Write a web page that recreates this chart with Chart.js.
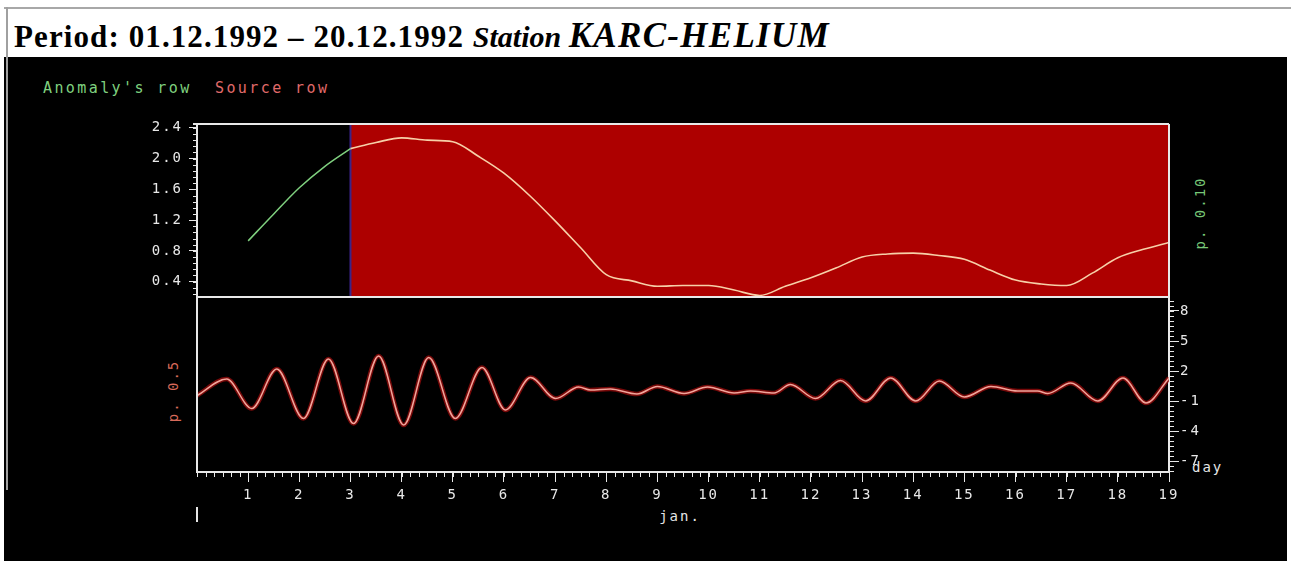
<!DOCTYPE html>
<html>
<head>
<meta charset="utf-8">
<script src="https://cdn.jsdelivr.net/npm/chart.js@4.4.1/dist/chart.umd.min.js"></script>
<style>
  html, body { margin: 0; padding: 0; background: #fff; }
  body { width: 1291px; height: 563px; position: relative; overflow: hidden; }
  .rule-top { position: absolute; left: 4px; top: 7px; width: 1287px; height: 2px; background: #a8a8a8; }
  .rule-left { position: absolute; left: 6px; top: 7px; width: 2px; height: 483px; background: #a0a0a0; z-index: 2; }
  .panel { position: absolute; left: 4px; top: 57px; width: 1283px; height: 504px; background: #000; }
  .title { position: absolute; left: 14px; top: 21px; white-space: nowrap; font-family: "Liberation Serif", serif; font-weight: bold; color: #000; line-height: 30px; }
  .title .period { font-size: 31px; letter-spacing: 1.1px; }
  .title .station { font-size: 30px; font-style: italic; }
  .title .name { font-size: 35px; font-style: italic; letter-spacing: 1.3px; }
  .mono { position: absolute; font-family: "DejaVu Sans Mono", monospace; font-size: 14px; letter-spacing: 2px; white-space: nowrap; line-height: 16px; }
  .origin { position: absolute; left: 196px; top: 507px; width: 2px; height: 15px; background: #e6e6e6; }
  canvas { position: absolute; left: 0; }
  #top { top: 100px; }
  #bottom { top: 290px; }
</style>
</head>
<body>
<div class="panel"></div>
<div class="rule-top"></div>
<div class="rule-left"></div>
<div class="title"><span class="period">Period: 01.12.1992 – 20.12.1992 </span><span class="station">Station </span><span class="name">KARC-HELIUM</span></div>

<div class="mono" style="left:43px; top:80px; color:#7fd07f; font-size:15px; letter-spacing:2.4px;">Anomaly's row</div>
<div class="mono" style="left:215px; top:80px; color:#e06a6a; font-size:15px; letter-spacing:2.4px;">Source row</div>

<div class="mono" style="left:1200px; top:213px; color:#78c878; transform: translate(-50%,-50%) rotate(-90deg);">p. 0.10</div>
<div class="mono" style="left:173px; top:391px; color:#d86a5a; transform: translate(-50%,-50%) rotate(-90deg);">p. 0.5</div>
<div class="mono" style="left:1192px; top:459px; color:#e6e6e6;">day</div>
<div class="mono" style="left:680px; top:508px; color:#e6e6e6; transform: translateX(-50%);">jan.</div>
<div class="origin"></div>

<canvas id="top" width="1291" height="200"></canvas>
<canvas id="bottom" width="1291" height="250"></canvas>

<script>
// Upper panel: smoothed series (days since 1 Dec, value)
const anomalyDays   = [1, 1.5, 2, 2.5, 3];
const anomalyValues = [0.93, 1.28, 1.62, 1.90, 2.13];

const sourceDays   = [3, 3.5, 4, 4.5, 5, 5.5, 6, 6.5, 7, 7.5, 8, 8.5, 9, 9.5, 10, 10.5, 11,
                      11.5, 12, 12.5, 13, 13.5, 14, 14.5, 15, 15.5, 16, 16.5, 17, 17.5, 18, 18.5, 19];
const sourceValues = [2.13, 2.21, 2.27, 2.24, 2.22, 2.03, 1.81, 1.52, 1.19, 0.84, 0.49, 0.41, 0.34, 0.35, 0.35, 0.29, 0.22,
                      0.34, 0.45, 0.58, 0.72, 0.76, 0.77, 0.74, 0.69, 0.55, 0.42, 0.37, 0.35, 0.51, 0.71, 0.82, 0.91];

// Interval marked as source data
const sourceStart = 3;
const sourceEnd = 19;

// Lower panel: oscillating component
const waveDays   = [0, 0.58, 1.07, 1.56, 2.08, 2.57, 3.06, 3.55, 4.04, 4.53, 5.05, 5.57, 6.03, 6.52, 7.01,
                    7.46, 7.69, 8.08, 8.6, 9.0, 9.52, 9.98, 10.5, 10.82, 11.28, 11.6, 12.09, 12.58, 13.07,
                    13.56, 14.05, 14.51, 15.0, 15.52, 16.04, 16.43, 16.63, 17.08, 17.61, 18.1, 18.55, 19.0];
const waveValues = [-0.45, 1.2, -1.75, 2.2, -2.75, 3.2, -3.25, 3.5, -3.4, 3.35, -2.75, 2.35, -1.9, 1.35, -0.75,
                    0.4, 0.1, 0.2, -0.3, 0.45, -0.25, 0.4, -0.2, 0.0, -0.2, 0.65, -0.75, 1.05, -1.0,
                    1.3, -1.0, 1.0, -0.6, 0.45, 0.0, 0.0, -0.25, 0.8, -1.0, 1.3, -1.2, 1.3];

// Tick labels
const dayTicks   = [1, 2, 3, 4, 5, 6, 7, 8, 9, 10, 11, 12, 13, 14, 15, 16, 17, 18, 19];
const upperTicks = [0.4, 0.8, 1.2, 1.6, 2.0, 2.4];
const lowerTicks = [-7, -4, -1, 2, 5, 8];

const TOP_MIN = 0.2, TOP_MAX = 2.45;
const BOT_MIN = -8.1, BOT_MAX = 9.4;

const pts = (xs, ys) => xs.map((x, i) => ({ x, y: ys[i] }));

const AXIS = '#e8e8e8';
const tickFont = { family: 'DejaVu Sans Mono', size: 14 };

// Wide pixel-font look for canvas text
const spacing = {
  id: 'spacing',
  beforeUpdate(chart) { chart.ctx.letterSpacing = '2px'; },
  beforeDraw(chart) { chart.ctx.letterSpacing = '2px'; }
};

// Keep the plot area exactly where the layout padding puts it
function noLabelPadding(s) {
  s.paddingTop = 0; s.paddingBottom = 0; s.paddingLeft = 0; s.paddingRight = 0;
}

// White frame lines on chosen sides of the plot area
const frame = {
  id: 'frame',
  afterDatasetsDraw(chart, args, opts) {
    const { ctx, chartArea: a } = chart;
    ctx.save();
    ctx.strokeStyle = AXIS;
    ctx.lineWidth = 2;
    ctx.beginPath();
    (opts.sides || []).forEach(s => {
      if (s === 'top')    { ctx.moveTo(a.left - 4, a.top); ctx.lineTo(a.right, a.top); }
      if (s === 'bottom') { ctx.moveTo(a.left, a.bottom); ctx.lineTo(a.right, a.bottom); }
      if (s === 'left')   { ctx.moveTo(a.left, a.top); ctx.lineTo(a.left, a.bottom); }
      if (s === 'right')  { ctx.moveTo(a.right, a.top); ctx.lineTo(a.right, a.bottom); }
    });
    ctx.stroke();
    ctx.restore();
  }
};

// Short minor tick marks between the labelled ones
const minorTicks = {
  id: 'minorTicks',
  afterDraw(chart, args, opts) {
    const { ctx } = chart;
    ctx.save();
    ctx.strokeStyle = AXIS;
    ctx.lineWidth = 1;
    (opts.axes || []).forEach(m => {
      const s = chart.scales[m.id];
      for (let i = m.from; i <= m.to; i++) {
        const v = i * m.step;
        const p = Math.round(s.getPixelForValue(v)) + 0.5;
        ctx.beginPath();
        if (s.isHorizontal()) { ctx.moveTo(p, s.top); ctx.lineTo(p, s.top + m.len); }
        else if (s.position === 'left') { ctx.moveTo(s.right, p); ctx.lineTo(s.right - m.len, p); }
        else { ctx.moveTo(s.left, p); ctx.lineTo(s.left + m.len, p); }
        ctx.stroke();
      }
    });
    ctx.restore();
  }
};

const common = {
  responsive: false,
  animation: false,
  events: [],
  plugins: { legend: { display: false }, tooltip: { enabled: false } }
};

new Chart(document.getElementById('top'), {
  type: 'line',
  data: {
    datasets: [
      { label: 'Source interval', data: [{ x: sourceStart, y: TOP_MAX }, { x: sourceEnd, y: TOP_MAX }],
        fill: 'start', backgroundColor: '#ad0000', borderWidth: 0, pointRadius: 0, order: 4 },
      { label: 'Source start', data: [{ x: sourceStart, y: TOP_MIN }, { x: sourceStart, y: TOP_MAX }],
        borderColor: '#3b2488', borderWidth: 2, pointRadius: 0, order: 3 },
      { label: "Anomaly's row", data: pts(anomalyDays, anomalyValues),
        borderColor: '#7fd07f', borderWidth: 1.5, pointRadius: 0, cubicInterpolationMode: 'monotone', order: 2 },
      { label: 'Source row', data: pts(sourceDays, sourceValues),
        borderColor: '#f7d0a8', borderWidth: 1.6, pointRadius: 0, cubicInterpolationMode: 'monotone', order: 1 }
    ]
  },
  options: {
    ...common,
    layout: { padding: { top: 24, bottom: 3, left: 0, right: 122 } },
    scales: {
      x: { type: 'linear', min: 0, max: 19, display: false },
      y: {
        type: 'linear', min: TOP_MIN, max: TOP_MAX,
        afterFit(s) { s.width = 197; noLabelPadding(s); },
        afterBuildTicks(s) { s.ticks = upperTicks.map(v => ({ value: v })); },
        ticks: { color: AXIS, font: tickFont, padding: 6, callback: v => Number(v).toFixed(1) },
        grid: { drawOnChartArea: false, tickLength: 8, color: AXIS, lineWidth: 1 },
        border: { color: AXIS, width: 2 }
      }
    },
    plugins: {
      ...common.plugins,
      frame: { sides: ['top', 'right', 'bottom'] },
      minorTicks: { axes: [{ id: 'y', from: 3, to: 30, step: 0.08, len: 4 }] }
    }
  },
  plugins: [spacing, frame, minorTicks]
});

new Chart(document.getElementById('bottom'), {
  type: 'line',
  data: {
    datasets: [
      { label: 'Source row (glow)', data: pts(waveDays, waveValues), yAxisID: 'y',
        borderColor: 'rgba(140,10,10,0.85)', borderWidth: 4.5, pointRadius: 0, cubicInterpolationMode: 'monotone', order: 2 },
      { label: 'Source row', data: pts(waveDays, waveValues), yAxisID: 'y',
        borderColor: '#f2a49a', borderWidth: 1.5, pointRadius: 0, cubicInterpolationMode: 'monotone', order: 1 }
    ]
  },
  options: {
    ...common,
    layout: { padding: { top: 7, bottom: 0, left: 197, right: 0 } },
    scales: {
      x: {
        type: 'linear', min: 0, max: 19,
        afterFit(s) { s.height = 68; noLabelPadding(s); },
        afterBuildTicks(s) { s.ticks = dayTicks.map(v => ({ value: v })); },
        ticks: { color: AXIS, font: tickFont, padding: 5, maxRotation: 0, autoSkip: false },
        grid: { drawOnChartArea: false, tickLength: 10, color: AXIS, lineWidth: 1 },
        border: { color: AXIS, width: 2 }
      },
      y: {
        type: 'linear', position: 'right', min: BOT_MIN, max: BOT_MAX,
        afterFit(s) { s.width = 122; noLabelPadding(s); },
        afterBuildTicks(s) { s.ticks = lowerTicks.map(v => ({ value: v })); },
        ticks: { color: AXIS, font: tickFont, padding: 1 },
        grid: { drawOnChartArea: false, tickLength: 10, color: AXIS, lineWidth: 1 },
        border: { color: AXIS, width: 2 }
      }
    },
    plugins: {
      ...common.plugins,
      frame: { sides: ['left'] },
      minorTicks: { axes: [
        { id: 'x', from: 0, to: 114, step: 1 / 6, len: 5 },
        { id: 'y', from: -16, to: 18, step: 0.5, len: 5 }
      ] }
    }
  },
  plugins: [spacing, frame, minorTicks]
});
</script>
</body>
</html>
